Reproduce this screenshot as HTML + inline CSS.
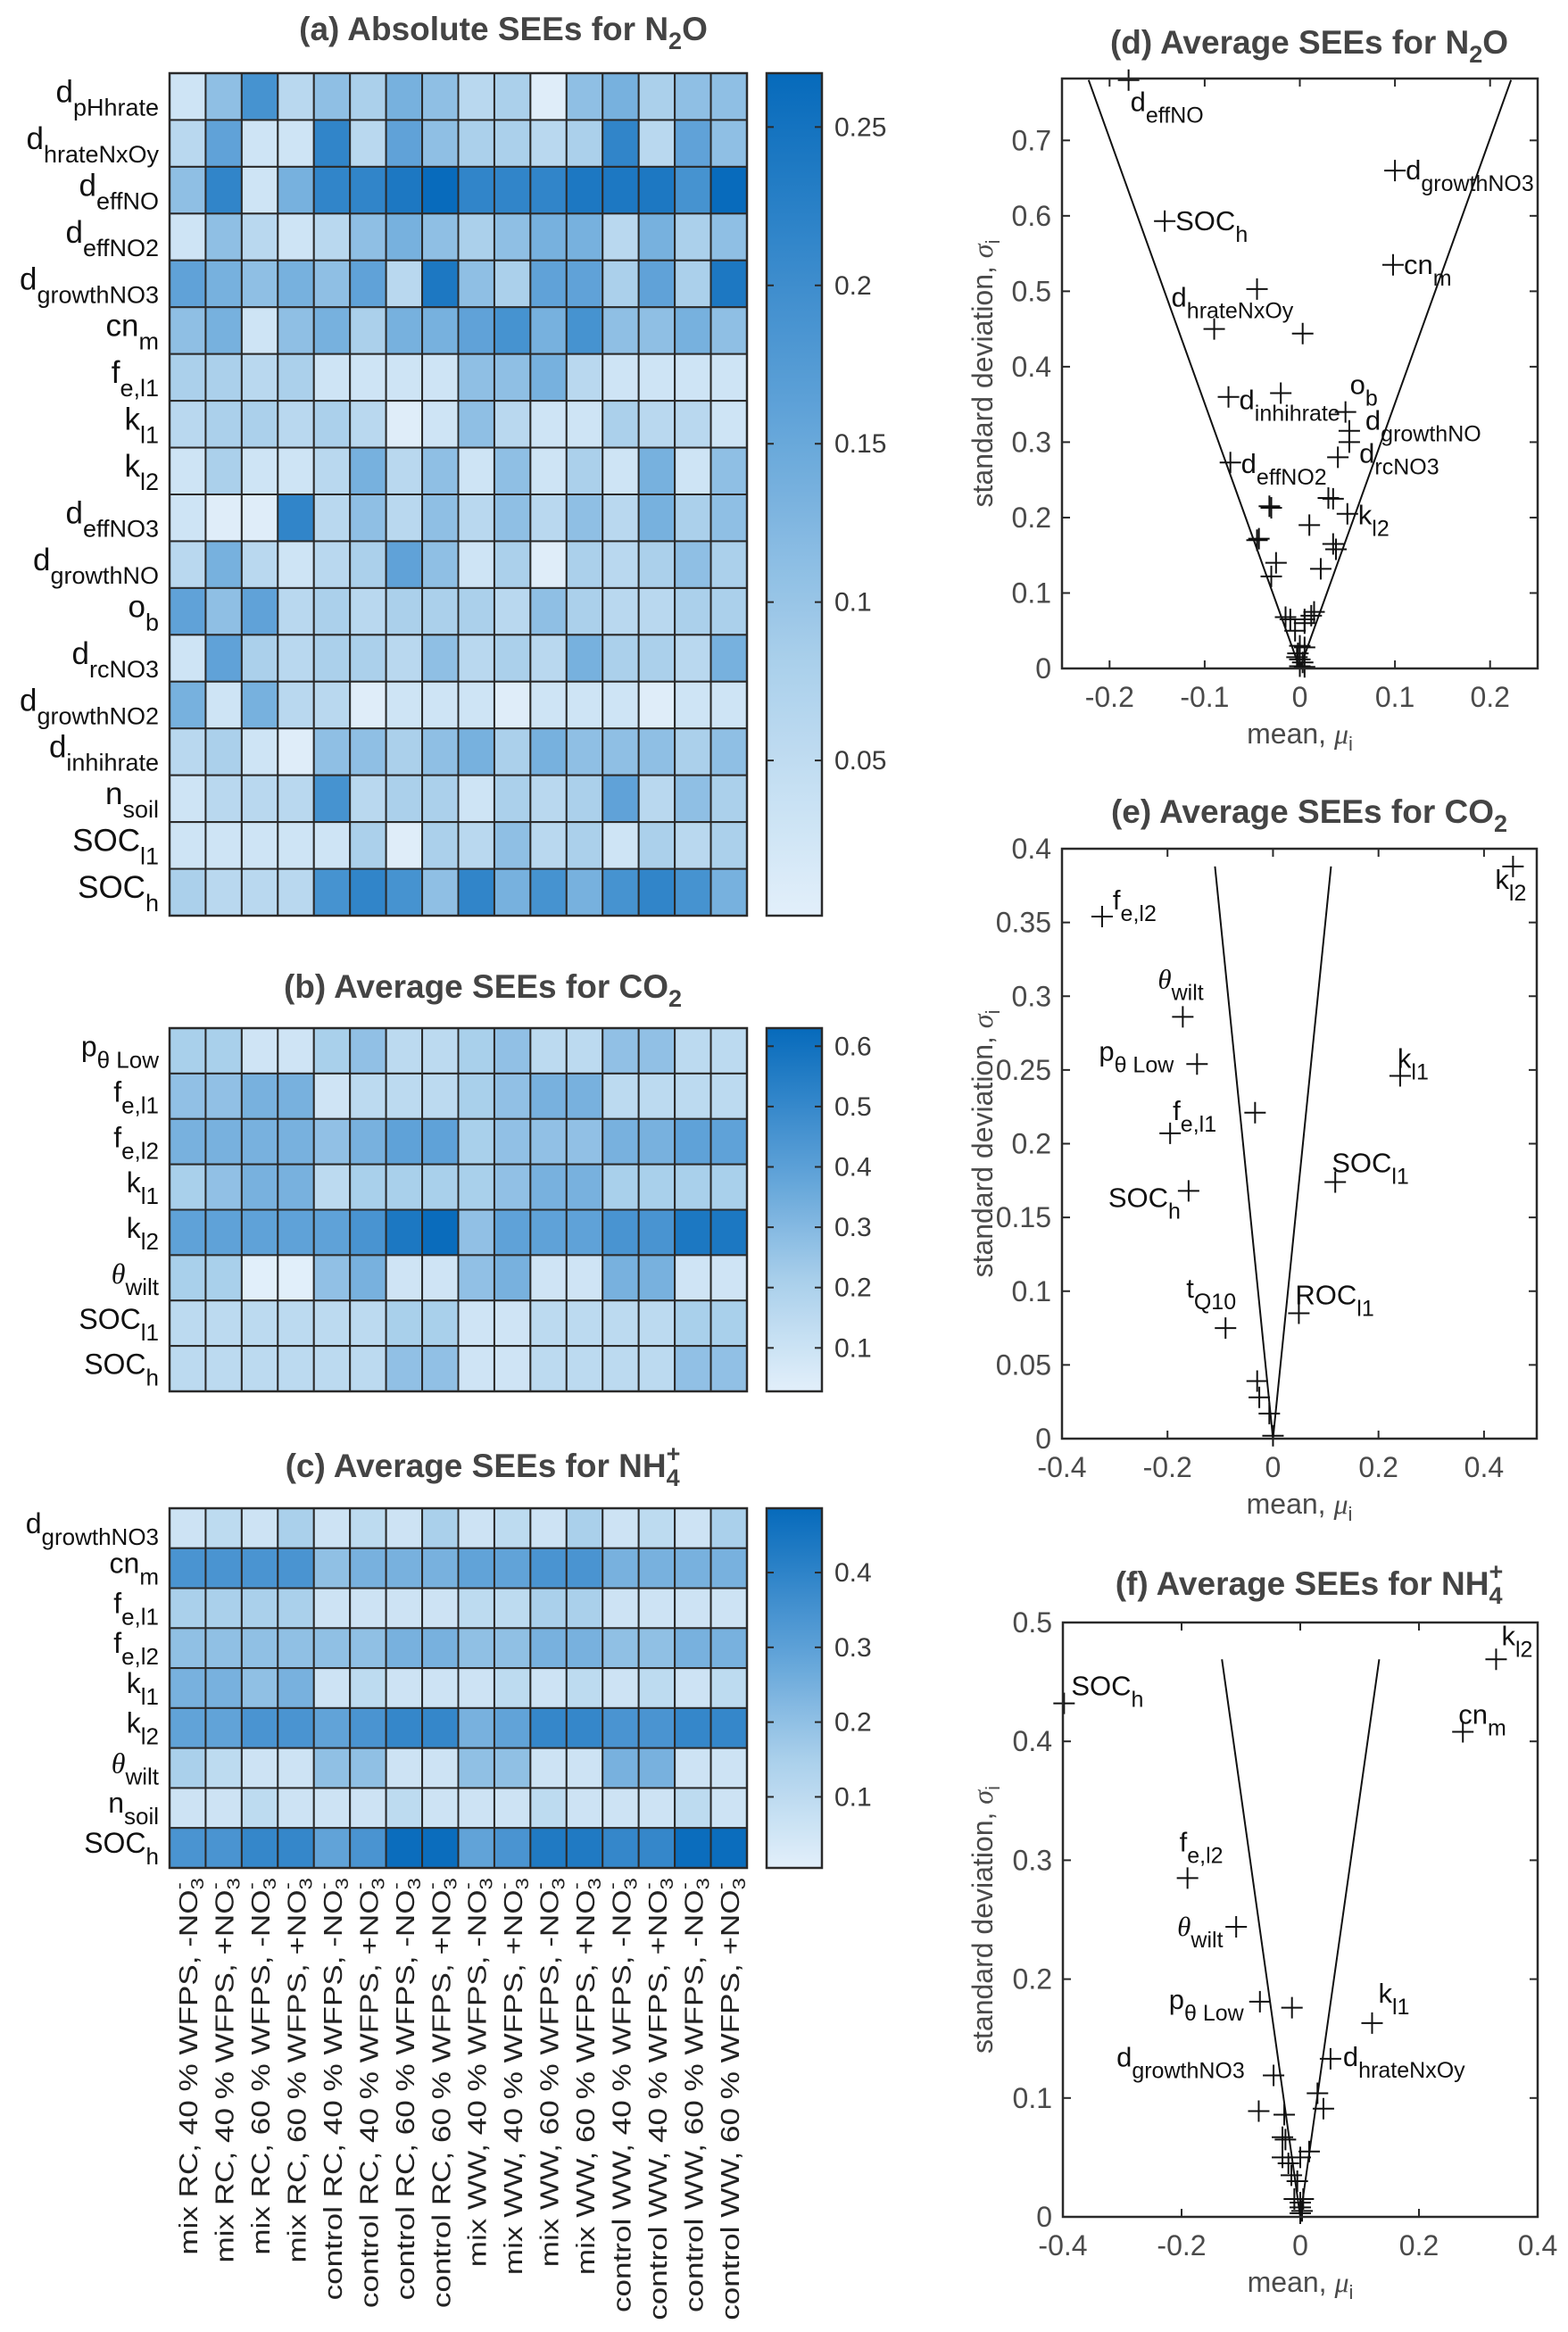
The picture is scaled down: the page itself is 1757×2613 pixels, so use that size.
<!DOCTYPE html>
<html><head><meta charset="utf-8">
<style>
html,body{margin:0;padding:0;background:#fff;}
svg{display:block;}
text{font-family:"Liberation Sans",Arial,sans-serif;}
</style></head>
<body>
<svg id="fig" width="1757" height="2613" viewBox="0 0 1757 2613" xmlns="http://www.w3.org/2000/svg"></svg>
<script>
// ===== Heatmap (a) data =====
const aRows = [["d","pHhrate"],["d","hrateNxOy"],["d","effNO"],["d","effNO2"],["d","growthNO3"],["cn","m"],["f","e,l1"],["k","l1"],["k","l2"],["d","effNO3"],["d","growthNO"],["o","b"],["d","rcNO3"],["d","growthNO2"],["d","inhihrate"],["n","soil"],["SOC","l1"],["SOC","h"]];
const aValues = [
[.03,.11,.19,.06,.11,.08,.135,.11,.06,.08,.005,.11,.135,.08,.11,.11],
[.06,.16,.03,.03,.215,.06,.16,.11,.08,.08,.06,.08,.215,.06,.16,.11],
[.11,.215,.03,.135,.215,.215,.24,.265,.215,.215,.215,.24,.24,.24,.19,.265],
[.03,.11,.06,.03,.06,.11,.135,.11,.08,.11,.135,.135,.06,.135,.08,.11],
[.16,.135,.11,.135,.11,.16,.06,.24,.11,.08,.16,.16,.08,.16,.08,.24],
[.11,.135,.03,.11,.135,.08,.135,.135,.16,.19,.135,.19,.11,.11,.135,.11],
[.08,.08,.06,.08,.03,.03,.03,.03,.11,.11,.135,.06,.03,.03,.03,.03],
[.06,.08,.08,.06,.08,.06,.005,.03,.11,.06,.03,.03,.08,.06,.06,.03],
[.03,.08,.03,.03,.06,.135,.06,.11,.03,.11,.03,.08,.03,.135,.03,.11],
[.03,.005,.005,.215,.06,.11,.06,.11,.06,.11,.06,.11,.06,.135,.08,.11],
[.06,.135,.06,.03,.06,.08,.16,.11,.03,.08,.005,.08,.06,.08,.11,.08],
[.16,.11,.16,.06,.08,.06,.08,.08,.08,.06,.11,.08,.06,.06,.08,.08],
[.03,.16,.08,.06,.08,.08,.06,.11,.06,.08,.06,.135,.08,.08,.06,.135],
[.135,.03,.135,.06,.06,.005,.03,.03,.03,.005,.03,.03,.03,.005,.03,.03],
[.06,.08,.03,.005,.11,.11,.08,.11,.135,.08,.135,.11,.11,.11,.08,.11],
[.03,.06,.06,.06,.19,.06,.08,.08,.03,.08,.06,.08,.16,.06,.11,.08],
[.03,.03,.03,.03,.03,.08,.005,.08,.06,.11,.06,.08,.03,.08,.06,.08],
[.08,.06,.06,.06,.19,.215,.19,.11,.215,.135,.19,.135,.19,.215,.19,.135]];
const aTicks = [0.05,0.1,0.15,0.2,0.25];
const aRange = [0.001,0.267];

// ===== Heatmap (b) data =====
const bRows = [["p","θ Low"],["f","e,l1"],["f","e,l2"],["k","l1"],["k","l2"],["θ","wilt"],["SOC","l1"],["SOC","h"]];
const bValues = [
[.21,.21,.09,.09,.21,.27,.15,.15,.21,.27,.15,.15,.27,.27,.15,.15],
[.27,.27,.33,.33,.09,.15,.15,.15,.21,.27,.33,.33,.15,.15,.15,.15],
[.33,.33,.33,.33,.27,.33,.39,.39,.21,.27,.27,.27,.33,.33,.39,.39],
[.21,.27,.33,.33,.15,.21,.21,.21,.21,.27,.33,.33,.21,.21,.21,.21],
[.39,.39,.39,.39,.39,.45,.57,.62,.27,.39,.39,.39,.45,.45,.57,.57],
[.21,.21,.03,.03,.27,.33,.09,.09,.27,.33,.09,.09,.33,.33,.09,.09],
[.15,.15,.15,.15,.15,.15,.21,.21,.09,.09,.15,.15,.15,.15,.21,.21],
[.15,.15,.15,.15,.15,.15,.27,.27,.09,.09,.15,.15,.15,.15,.27,.27]];
const bTicks = [0.1,0.2,0.3,0.4,0.5,0.6];
const bRange = [0.028,0.63];

// ===== Heatmap (c) data =====
const cRows = [["d","growthNO3"],["cn","m"],["f","e,l1"],["f","e,l2"],["k","l1"],["k","l2"],["θ","wilt"],["n","soil"],["SOC","h"]];
const cValues = [
[.06,.10,.06,.15,.06,.10,.06,.15,.06,.10,.06,.15,.06,.10,.06,.15],
[.34,.34,.34,.34,.20,.245,.245,.245,.29,.29,.34,.34,.245,.245,.245,.245],
[.15,.15,.15,.15,.06,.06,.06,.06,.10,.10,.15,.15,.06,.06,.06,.06],
[.20,.20,.20,.20,.20,.20,.245,.245,.20,.20,.245,.245,.20,.20,.245,.245],
[.245,.245,.20,.245,.06,.10,.06,.06,.06,.10,.06,.10,.06,.10,.06,.10],
[.29,.29,.34,.34,.29,.34,.385,.385,.245,.29,.385,.385,.34,.34,.385,.385],
[.15,.10,.06,.06,.20,.20,.06,.06,.20,.20,.06,.06,.245,.245,.06,.06],
[.06,.06,.10,.06,.06,.06,.10,.06,.06,.06,.10,.06,.06,.06,.10,.06],
[.34,.34,.385,.385,.29,.34,.475,.475,.29,.34,.43,.43,.385,.385,.475,.475]];
const cTicks = [0.1,0.2,0.3,0.4];
const cRange = [0.005,0.486];

const columns = ["mix RC, 40 % WFPS, ","mix RC, 40 % WFPS, ","mix RC, 60 % WFPS, ","mix RC, 60 % WFPS, ","control RC, 40 % WFPS, ","control RC, 40 % WFPS, ","control RC, 60 % WFPS, ","control RC, 60 % WFPS, ","mix WW, 40 % WFPS, ","mix WW, 40 % WFPS, ","mix WW, 60 % WFPS, ","mix WW, 60 % WFPS, ","control WW, 40 % WFPS, ","control WW, 40 % WFPS, ","control WW, 60 % WFPS, ","control WW, 60 % WFPS, "];
const columnSign = ["-","+","-","+","-","+","-","+","-","+","-","+","-","+","-","+"];

// ===== Scatter (d) data =====
const dMean = [-0.18,0.10,-0.142,0.098,-0.045,-0.09,0.003,-0.075,-0.02,0.048,0.052,0.052,0.04,-0.073,-0.032,-0.03,0.035,0.03,0.05,0.01,-0.045,-0.043,-0.025,-0.03,0.038,0.035,0.022,-0.015,-0.01,0.005,0.012,0.015,0.005,-0.005,0,0.005,-0.002,0,0.003,0,0.005,-0.003];
const dSd   = [0.78,0.66,0.593,0.535,0.503,0.45,0.444,0.36,0.365,0.34,0.315,0.30,0.28,0.273,0.215,0.213,0.225,0.226,0.205,0.19,0.17,0.172,0.14,0.122,0.158,0.165,0.132,0.068,0.065,0.065,0.07,0.075,0.06,0.05,0.03,0.028,0.02,0.012,0.008,0.003,0.002,0.015];
const dLabels = [["d","effNO",0,2,35],["d","growthNO3",1,12,10],["SOC","h",2,12,10],["cn","m",3,12,10],["d","hrateNxOy",5,-48,-25],["d","inhihrate",7,12,14],["o","b",9,5,-20],["d","growthNO",11,18,-14],["d","rcNO3",12,24,6],["d","effNO2",13,12,12],["k","l2",18,12,12]];
const dLines = [-0.222,0.222];
const dLineTop = 0.78;

// ===== Scatter (e) data =====
const eMean = [0.455,-0.324,-0.171,-0.144,-0.034,-0.195,0.241,0.118,-0.16,-0.09,0.049,-0.03,-0.026,-0.007,0];
const eSd   = [0.388,0.354,0.286,0.254,0.221,0.207,0.246,0.174,0.168,0.075,0.085,0.039,0.028,0.017,0.002];
const eLabels = [["k","l2",0,-20,25],["f","e,l2",1,12,-8],["θ","wilt",2,-28,-32],["p","θ Low",3,-110,-4],["f","e,l1",5,3,-15],["k","l1",6,-3,-9],["SOC","l1",7,-4,-11],["SOC","h",8,-90,18],["t","Q10",9,-44,-34],["ROC","l1",10,-4,-10]];
const eLines = [-0.11,0.11];
const eLineTop = 0.388;

// ===== Scatter (f) data =====
const fMean = [0.33,-0.398,0.274,-0.19,-0.108,-0.068,-0.014,0.121,0.051,-0.045,0.029,0.039,-0.07,-0.027,-0.03,-0.025,-0.03,-0.02,0,0.015,-0.015,-0.005,-0.01,0,0.005,0,0,0.003];
const fSd   = [0.469,0.432,0.408,0.285,0.244,0.181,0.176,0.163,0.133,0.119,0.104,0.091,0.089,0.086,0.067,0.065,0.05,0.045,0.05,0.055,0.035,0.03,0.015,0.012,0.015,0.008,0.003,0.005];
const fLabels = [["k","l2",0,6,-16],["SOC","h",1,8,-9],["cn","m",2,-5,-9],["f","e,l2",3,-9,-30],["θ","wilt",4,-66,10],["p","θ Low",5,-102,8],["k","l1",7,7,-23],["d","hrateNxOy",8,14,8],["d","growthNO3",9,-176,-10]];
const fLines = [-0.132,0.133];
const fLineTop = 0.469;

const NS = "http://www.w3.org/2000/svg";
const svg = document.getElementById("fig");
function mk(tag, attrs, parent){
  const e = document.createElementNS(NS, tag);
  for (const k in attrs) e.setAttribute(k, attrs[k]);
  (parent||svg).appendChild(e);
  return e;
}
function colorOf(t){
  t = Math.max(0, Math.min(1, t));
  const stops = [[0,[226,239,250]],[0.3,[170,208,235]],[0.6,[95,162,216]],[1,[6,106,187]]];
  for (let i=1;i<stops.length;i++){
    if (t <= stops[i][0]){
      const a = stops[i-1], b = stops[i];
      const u = (t-a[0])/(b[0]-a[0]);
      const c = a[1].map((v,j)=>Math.round(v+(b[1][j]-v)*u));
      return "rgb("+c.join(",")+")";
    }
  }
  return "rgb(6,106,187)";
}
function label(parent, x, y, main, sub, mainSize, subSize, anchor, fill){
  const t = mk("text", {x:x, y:y, "text-anchor":anchor, "font-size":mainSize, fill:fill||"#111"}, parent);
  const m = mk("tspan", {}, t);
  if (main === "θ"){ m.setAttribute("font-family","'Liberation Serif',serif"); m.setAttribute("font-style","italic"); }
  m.textContent = main;
  const s = mk("tspan", {dy: Math.round(mainSize*0.42), "font-size":subSize}, t);
  s.textContent = sub;
  return t;
}
function title(x, y, main, sub, sup, name){
  const t = mk("text", {x:x, y:y, "text-anchor":"middle", "font-size":37, "font-weight":"bold", fill:"#444"});
  
  
  const a = mk("tspan", {}, t); a.textContent = main;
  if (sub){ const s = mk("tspan", {dy:10, "font-size":27}, t); s.textContent = sub; }
  if (sub){ const r = mk("tspan", {dy:-10}, t); r.textContent = main.endsWith("N") ? "O" : ""; }
  return t;
}

function heatmap(name, rows, values, range, ticks, x0, x1, y0, y1, mainSize, subSize){
  const g = mk("g", {});
  
  
  const nc = values[0].length, nr = rows.length;
  const cw = (x1-x0)/nc, rh = (y1-y0)/nr;
  values.forEach((row, r) => {
    row.forEach((v, c) => {
      const t = (v-range[0])/(range[1]-range[0]);
      const cell = mk("rect", {x:x0+c*cw, y:y0+r*rh, width:cw, height:rh, fill:colorOf(t), stroke:"#2a2a2a", "stroke-width":2}, g);
      
      
    });
  });
  mk("rect", {x:x0, y:y0, width:x1-x0, height:y1-y0, fill:"none", stroke:"#2a2a2a", "stroke-width":2.5}, g);
  rows.forEach((rw, r) => {
    const lt = label(g, x0-12, y0 + r*rh + rh*0.62, rw[0], rw[1], mainSize, subSize, "end", "#111");
    
    
  });
  const cbx = 859, cbw = 62;
  const gid = "grad" + name;
  const defs = mk("defs", {}, g);
  const lg = mk("linearGradient", {id:gid, x1:0, y1:1, x2:0, y2:0}, defs);
  for (let i=0;i<=20;i++){ mk("stop", {offset:(i/20), "stop-color":colorOf(i/20)}, lg); }
  const cb = mk("rect", {x:cbx, y:y0, width:cbw, height:y1-y0, fill:"url(#"+gid+")", stroke:"#2a2a2a", "stroke-width":2.5}, g);
  
  
  ticks.forEach(tv => {
    const y = y1 - (tv-range[0])/(range[1]-range[0])*(y1-y0);
    mk("line", {x1:cbx+cbw, x2:cbx+cbw-8, y1:y, y2:y, stroke:"#2a2a2a", "stroke-width":2}, g);
    mk("line", {x1:cbx, x2:cbx+8, y1:y, y2:y, stroke:"#2a2a2a", "stroke-width":2}, g);
    const tl = mk("text", {x:cbx+cbw+14, y:y+10, "font-size":30, fill:"#3a3a3a"}, g);
    
    
    tl.textContent = String(tv);
  });
  return g;
}

heatmap("heatmap-a-n2o", aRows, aValues, aRange, aTicks, 190, 837, 82, 1026, 35, 27);
heatmap("heatmap-b-co2", bRows, bValues, bRange, bTicks, 190, 837, 1152, 1559, 32, 26);
heatmap("heatmap-c-nh4", cRows, cValues, cRange, cTicks, 190, 837, 1690, 2093, 32, 26);

title(564, 45, "(a) Absolute SEEs for N", "2", null, "title-a");
title(541, 1118, "(b) Average SEEs for CO", "2", null, "title-b");
(function(){
  const t = mk("text", {x:541, y:1655, "text-anchor":"middle", "font-size":37, "font-weight":"bold", fill:"#444"});
  
  
  const a = mk("tspan", {}, t); a.textContent = "(c) Average SEEs for NH";
  const s = mk("tspan", {dy:10, "font-size":27}, t); s.textContent = "4";
  const p = mk("tspan", {dx:-15, dy:-27, "font-size":27}, t); p.textContent = "+";
})();

columns.forEach((txt, i) => {
  const cx = 190 + (i+0.5)*(837-190)/16 + 11;
  const y = 2104;
  const t = mk("text", {x:0, y:0, "text-anchor":"end", "font-size":29, fill:"#222", transform:"translate("+cx+","+y+") rotate(-90) scale(1.21,1)"});
  
  
  const a = mk("tspan", {}, t); a.textContent = txt + columnSign[i] + "NO";
  const s = mk("tspan", {dy:7, "font-size":20}, t); s.textContent = "3";
  const p = mk("tspan", {dx:-11, dy:-21, "font-size":20}, t); p.textContent = "-";
});

function scatter(name, mean, sd, labels, lines, lineTop, ax){
  const g = mk("g", {});
  
  
  const X = v => ax.x0 + (v-ax.xmin)/(ax.xmax-ax.xmin)*(ax.x1-ax.x0);
  const Y = v => ax.yb - (v-0)/(ax.ymax)*(ax.yb-ax.yt);
  ax.xticks.forEach(tv => {
    const x = X(tv);
    mk("line", {x1:x, x2:x, y1:ax.yb, y2:ax.yb-9, stroke:"#2a2a2a", "stroke-width":2}, g);
    mk("line", {x1:x, x2:x, y1:ax.yt, y2:ax.yt+9, stroke:"#2a2a2a", "stroke-width":2}, g);
    const tl = mk("text", {x:x, y:ax.yb+43, "text-anchor":"middle", "font-size":32, fill:"#4a4a4a"}, g);
    
    
    tl.textContent = String(tv);
  });
  ax.yticks.forEach(tv => {
    const y = Y(tv);
    mk("line", {x1:ax.x0, x2:ax.x0+9, y1:y, y2:y, stroke:"#2a2a2a", "stroke-width":2}, g);
    mk("line", {x1:ax.x1, x2:ax.x1-9, y1:y, y2:y, stroke:"#2a2a2a", "stroke-width":2}, g);
    const tl = mk("text", {x:ax.x0-12, y:y+11, "text-anchor":"end", "font-size":32, fill:"#4a4a4a"}, g);
    
    
    tl.textContent = String(tv);
  });
  lines.forEach(lx => {
    const ln = mk("line", {x1:X(0), y1:Y(0), x2:X(lx), y2:Y(lineTop), stroke:"#111", "stroke-width":2}, g);
    
    
  });
  mean.forEach((m, i) => {
    const x = X(m), y = Y(sd[i]);
    const p = mk("path", {d:"M"+(x-12)+" "+y+"H"+(x+12)+"M"+x+" "+(y-12)+"V"+(y+12), stroke:"#111", "stroke-width":2, fill:"none"}, g);
    
    
  });
  labels.forEach(l => {
    const x = X(mean[l[2]]) + l[3], y = Y(sd[l[2]]) + l[4];
    const t = label(g, x, y, l[0], l[1], 31, 25, "start", "#111");
    
    
  });
  mk("rect", {x:ax.x0, y:ax.yt, width:ax.x1-ax.x0, height:ax.yb-ax.yt, fill:"none", stroke:"#2a2a2a", "stroke-width":2.5}, g);
  const cy = (ax.yt+ax.yb)/2;
  const yl = mk("text", {x:0, y:0, "text-anchor":"middle", "font-size":32, fill:"#4a4a4a", transform:"translate(1112,"+cy+") rotate(-90)"}, g);
  
  
  const y1t = mk("tspan", {}, yl); y1t.textContent = "standard deviation, ";
  const y2t = mk("tspan", {"font-family":"'Liberation Serif',serif", "font-style":"italic"}, yl); y2t.textContent = "σ";
  const y3t = mk("tspan", {dy:8, "font-size":22}, yl); y3t.textContent = "i";
  const cx = (ax.x0+ax.x1)/2;
  const xl = mk("text", {x:cx, y:ax.yb+84, "text-anchor":"middle", "font-size":32, fill:"#4a4a4a"}, g);
  
  
  const x1t = mk("tspan", {}, xl); x1t.textContent = "mean, ";
  const x2t = mk("tspan", {"font-family":"'Liberation Serif',serif", "font-style":"italic"}, xl); x2t.textContent = "μ";
  const x3t = mk("tspan", {dy:8, "font-size":22}, xl); x3t.textContent = "i";
}

scatter("scatter-d-n2o", dMean, dSd, dLabels, dLines, dLineTop,
  {x0:1190, x1:1723, xmin:-0.25, xmax:0.25, yt:88, yb:749, ymax:0.782, xticks:[-0.2,-0.1,0,0.1,0.2], yticks:[0,0.1,0.2,0.3,0.4,0.5,0.6,0.7]});
scatter("scatter-e-co2", eMean, eSd, eLabels, eLines, eLineTop,
  {x0:1190, x1:1722, xmin:-0.4, xmax:0.5, yt:951, yb:1612, ymax:0.4, xticks:[-0.4,-0.2,0,0.2,0.4], yticks:[0,0.05,0.1,0.15,0.2,0.25,0.3,0.35,0.4]});
scatter("scatter-f-nh4", fMean, fSd, fLabels, fLines, fLineTop,
  {x0:1191, x1:1723, xmin:-0.4, xmax:0.4, yt:1818, yb:2484, ymax:0.5, xticks:[-0.4,-0.2,0,0.2,0.4], yticks:[0,0.1,0.2,0.3,0.4,0.5]});

title(1467, 60, "(d) Average SEEs for N", "2", null, "title-d");
title(1467, 922, "(e) Average SEEs for CO", "2", null, "title-e");
(function(){
  const t = mk("text", {x:1467, y:1787, "text-anchor":"middle", "font-size":37, "font-weight":"bold", fill:"#444"});
  
  
  const a = mk("tspan", {}, t); a.textContent = "(f) Average SEEs for NH";
  const s = mk("tspan", {dy:10, "font-size":27}, t); s.textContent = "4";
  const p = mk("tspan", {dx:-15, dy:-27, "font-size":27}, t); p.textContent = "+";
})();
</script>
</body></html>
